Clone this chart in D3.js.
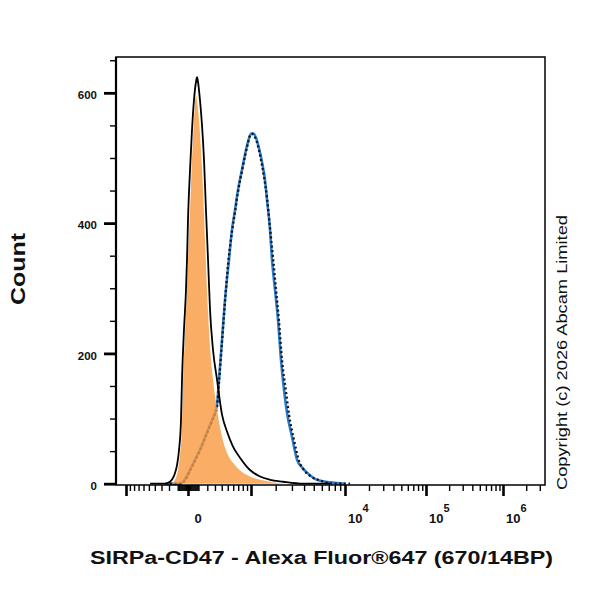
<!DOCTYPE html>
<html>
<head>
<meta charset="utf-8">
<script src="https://cdnjs.cloudflare.com/ajax/libs/d3/7.8.5/d3.min.js"></script>
<style>
  body { margin: 0; background: #fff; }
  text { font-family: "Liberation Sans", Arial, sans-serif; fill: #111; }
</style>
</head>
<body>
<div class="chart"></div>
<script>
var svgWidth = 600;
var svgHeight = 600;

var margin = {
  top: 57,
  right: 55,
  bottom: 115,
  left: 116
};

var width = svgWidth - margin.left - margin.right;
var height = svgHeight - margin.top - margin.bottom;

// control (black line)
var controlX = [-480, -252, -188, -141, -108, -86, -66, -56, -37, -18, -9, 0, 18, 36, 55, 75, 85, 95, 116, 138,
  161, 184, 209, 234, 273, 329, 405, 487, 596, 738, 974, 1307, 1723, 2409, 3901, 7197];
var controlCount = [0, 0, 3, 12, 28, 52, 98, 160, 236, 298, 344, 405, 482, 543, 589, 617, 624, 617, 589, 551,
  497, 420, 344, 267, 206, 160, 106, 80, 57, 40, 21, 11, 6, 3, 0, 0];

// unstained (orange fill)
var unstainedX = [-321, -164, -130, -97, -76, -56, -46, -27, -9, 0, 18, 36, 55, 65, 75, 85, 106, 127, 150, 173,
  196, 221, 247, 273, 329, 405, 504, 596, 782, 974, 1307, 1723, 2532, 3636];
var unstainedCount = [0, 0, 6, 21, 44, 91, 152, 229, 298, 344, 420, 497, 558, 584, 595, 589, 558, 512, 451, 374,
  298, 236, 190, 160, 114, 72, 44, 32, 18, 11, 6, 3, 0, 0];

// stained (blue line)
var stainedX = [-252, -97, -46, 18, 65, 116, 161, 209, 273, 329, 359, 405, 453, 522, 577, 635, 696, 782, 851, 924,
  1000, 1063, 1164, 1270, 1384, 1504, 1589, 1723, 1817, 1965, 2123, 2291, 2470, 2660, 3005, 3387, 3811, 4281, 5381, 7197, 10000];
var stainedCount = [0, 0, 3, 21, 37, 52, 67, 83, 101, 121, 160, 221, 282, 344, 390, 420, 451, 482, 505, 525,
  537, 538, 531, 515, 494, 466, 436, 390, 344, 298, 252, 190, 144, 109, 72, 37, 25, 17, 6, 2, 0];

// stained replicate (black dotted)
var stained2X = [-188, -76, -37, 18, 65, 116, 161, 209, 273, 329, 359, 405, 453, 504, 577, 635, 696, 782, 851, 924,
  974, 1031, 1130, 1234, 1345, 1463, 1589, 1723, 1865, 2017, 2178, 2350, 2596, 2794, 3153, 3551, 3993, 4588, 5758, 8036, 11570];
var stained2Count = [0, 0, 3, 20, 35, 51, 66, 81, 100, 118, 156, 218, 279, 336, 387, 417, 448, 480, 503, 523,
  534, 537, 532, 518, 497, 471, 439, 393, 347, 298, 249, 190, 141, 106, 67, 35, 21, 12, 5, 0, 0];

var yMajorTicks = [0, 200, 400, 600];
var xMajorTicks = [-1000, 0, 1e3, 1e4, 1e5, 1e6];
var xLabelValues = [0, 1e4, 1e5, 1e6];
var xLabelExps = [null, 4, 5, 6];

var svg = d3
  .select(".chart")
  .append("svg")
  .attr("width", svgWidth)
  .attr("height", svgHeight);

var chartGroup = svg.append("g")
  .attr("transform", `translate(${margin.left}, ${margin.top})`);

// biexponential-like display: symlog, pinned at each decade
var xScale = d3.scaleSymlog()
  .constant(500)
  .domain(xMajorTicks)
  .range([10, 72, 135, 229, 310, 387]);

var yScale = d3.scaleLinear()
  .domain([-2, 655])
  .range([height, 0]);

function toPoints(xs, ys) {
  return xs.map((v, i) => ({x: v, y: ys[i]}));
}

var line = d3.line()
  .x(d => xScale(d.x))
  .y(d => yScale(d.y))
  .curve(d3.curveMonotoneX);

var area = d3.area()
  .x(d => xScale(d.x))
  .y0(yScale(0))
  .y1(d => yScale(d.y))
  .curve(d3.curveMonotoneX);

var plot = chartGroup.append("g");

plot.append("path")
  .datum(toPoints(stainedX, stainedCount))
  .attr("d", line)
  .attr("fill", "none")
  .attr("stroke", "#2a7ccb")
  .attr("stroke-width", 2.6);

plot.append("path")
  .datum(toPoints(stained2X, stained2Count))
  .attr("d", line)
  .attr("fill", "none")
  .attr("stroke", "#111")
  .attr("stroke-width", 2.3)
  .attr("stroke-dasharray", "2,2.6");

plot.append("path")
  .datum(toPoints(unstainedX, unstainedCount))
  .attr("d", area)
  .attr("fill", "#f7993f")
  .attr("fill-opacity", 0.8)
  .attr("stroke", "none");

plot.append("path")
  .datum(toPoints(controlX, controlCount))
  .attr("d", line)
  .attr("fill", "none")
  .attr("stroke", "#000")
  .attr("stroke-width", 1.8);

// minor x ticks
var xMinorTicks = [];
[1, 2, 3, 4, 5, 6].forEach(function(n) {
  for (var k = (n <= 2 ? 1 : 2); k <= 9; k++) {
    var v = k * Math.pow(10, n);
    xMinorTicks.push(v);
    if (n <= 2) xMinorTicks.push(-v);
  }
});
xMinorTicks = xMinorTicks.filter(v => xScale(v) > 0 && xScale(v) < width);

var xMinorAxis = chartGroup.append("g")
  .attr("transform", `translate(0, ${height})`)
  .call(d3.axisBottom(xScale).tickValues(xMinorTicks).tickSize(6).tickSizeOuter(0).tickFormat(""));

var xMajorAxis = chartGroup.append("g")
  .attr("transform", `translate(0, ${height})`)
  .call(d3.axisBottom(xScale).tickValues(xMajorTicks).tickSize(11).tickSizeOuter(0).tickFormat(""));

xMinorAxis.select(".domain").remove();
xMajorAxis.select(".domain").remove();
xMinorAxis.selectAll("line").attr("stroke", "#000").attr("stroke-width", 1.4);
xMajorAxis.selectAll("line").attr("stroke", "#000").attr("stroke-width", 2.6);

var yMinorTicks = d3.range(0, 651, 50).filter(v => yMajorTicks.indexOf(v) < 0);

var yMinorAxis = chartGroup.append("g")
  .call(d3.axisLeft(yScale).tickValues(yMinorTicks).tickSize(6).tickSizeOuter(0).tickFormat(""));

var yMajorAxis = chartGroup.append("g")
  .call(d3.axisLeft(yScale).tickValues(yMajorTicks).tickSize(12).tickSizeOuter(0).tickPadding(7));

yMinorAxis.select(".domain").remove();
yMajorAxis.select(".domain").remove();
yMinorAxis.selectAll("line").attr("stroke", "#000").attr("stroke-width", 1.4);
yMajorAxis.selectAll("line").attr("stroke", "#000").attr("stroke-width", 2.8);
yMajorAxis.selectAll("text")
  .attr("font-size", "11.5px")
  .attr("font-weight", "bold")
  .attr("fill", "#222")
  .attr("dy", "0.5em");

// frame
chartGroup.append("rect")
  .attr("x", 0)
  .attr("y", 0)
  .attr("width", width)
  .attr("height", height)
  .attr("fill", "none")
  .attr("stroke", "#000")
  .attr("stroke-width", 1.5);

chartGroup.append("line")
  .attr("x1", 0).attr("x2", 0)
  .attr("y1", 0).attr("y2", height)
  .attr("stroke", "#000")
  .attr("stroke-width", 2.2);

// x tick labels
var xLabels = chartGroup.append("g");
xLabelValues.forEach(function(v, i) {
  var t = xLabels.append("text")
    .attr("y", height + 38)
    .attr("font-size", "13px")
    .attr("font-weight", "bold")
    .attr("fill", "#222");
  if (xLabelExps[i] === null) {
    t.attr("x", xScale(v) + 10).attr("text-anchor", "middle").text("0");
  } else {
    t.attr("x", xScale(v) + 3).attr("text-anchor", "start").text("10");
    t.append("tspan")
      .attr("dy", -11)
      .attr("font-size", "11px")
      .text(xLabelExps[i]);
  }
});

// axis titles
svg.append("text")
  .attr("x", 90)
  .attr("y", 564)
  .attr("font-size", "18px")
  .attr("font-weight", "bold")
  .attr("fill", "#000")
  .attr("textLength", 463)
  .attr("lengthAdjust", "spacingAndGlyphs")
  .text("SIRPa-CD47 - Alexa Fluor®647 (670/14BP)");

svg.append("text")
  .attr("transform", "translate(25, 305) rotate(-90)")
  .attr("font-size", "20px")
  .attr("font-weight", "bold")
  .attr("fill", "#000")
  .attr("textLength", 72)
  .attr("lengthAdjust", "spacingAndGlyphs")
  .text("Count");

svg.append("text")
  .attr("transform", "translate(567, 490) rotate(-90)")
  .attr("font-size", "14.5px")
  .attr("fill", "#111")
  .attr("textLength", 275)
  .attr("lengthAdjust", "spacingAndGlyphs")
  .text("Copyright (c) 2026 Abcam Limited");
</script>
</body>
</html>
